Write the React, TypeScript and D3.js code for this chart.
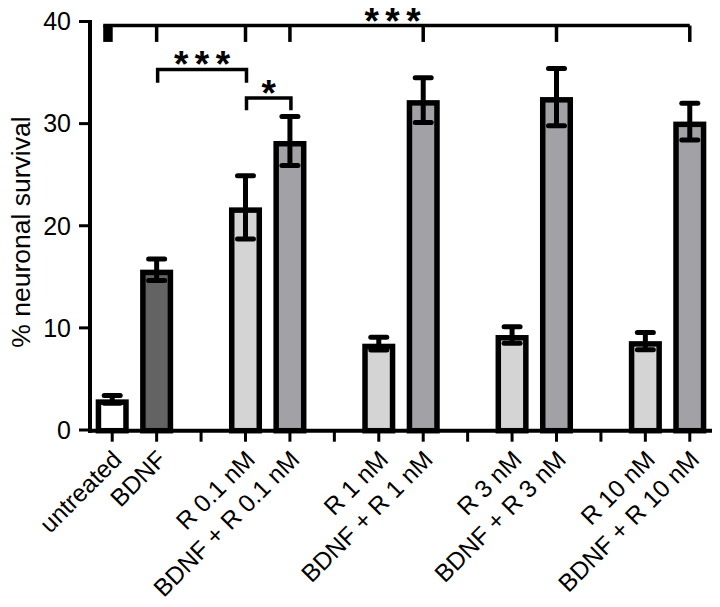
import React from "react";
import * as d3 from "d3";

const categories = ["untreated", "BDNF", "", "R 0.1 nM", "BDNF + R 0.1 nM", "", "R 1 nM", "BDNF + R 1 nM", "", "R 3 nM", "BDNF + R 3 nM", "", "R 10 nM", "BDNF + R 10 nM"];
const means: (number | null)[] = [3.0, 15.7, null, 21.8, 28.3, null, 8.45, 32.3, null, 9.3, 32.6, null, 8.7, 30.2];
const errors: (number | null)[] = [0.38, 1.05, null, 3.1, 2.4, null, 0.62, 2.2, null, 0.8, 2.8, null, 0.85, 1.8];
const treatments = ["none", "BDNF", "", "R", "BDNF+R", "", "R", "BDNF+R", "", "R", "BDNF+R", "", "R", "BDNF+R"];
const yTicks = [0, 10, 20, 30, 40];
const yLabel = "% neuronal survival";

// significance comparisons
const sigTop = { from: 0, to: [1, 3, 4, 7, 10, 13], level: 39.6, bottom: 38.0, label: "***" };
const sigPairs = [
  { from: 1, to: 3, level: 35.3, bottom: 34.0, label: "***" },
  { from: 3, to: 4, level: 32.5, bottom: 31.3, label: "*" },
];

const fillFor: Record<string, string> = {
  none: "#ffffff",
  BDNF: "#636363",
  R: "#d4d4d4",
  "BDNF+R": "#a2a1a6",
};

export default function App() {
  const W = 720, H = 607;
  const x = d3.scaleBand<string>()
    .domain(categories.map((_, i) => String(i)))
    .range([90, 712])
    .paddingInner(0.38)
    .paddingOuter(0.19);
  const y = d3.scaleLinear().domain([0, 40]).range([430, 21.5]);
  const bw = x.bandwidth();
  const sw = 5.5;
  const cx = (i: number) => (x(String(i)) as number) + bw / 2;
  const font = "'Liberation Sans', Arial, Helvetica, sans-serif";
  const axisY = y(0) + 0.7;
  const starSize = 37;
  const starDy = 8;
  const ls = 6.5;

  return (
    <svg width={W} height={H} style={{ position: "absolute", left: 0, top: 0, background: "#fff" }} fontFamily={font}>
      {/* bars */}
      {categories.map((c, i) => {
        const m = means[i];
        if (m == null) return null;
        const top = y(m) + sw / 2;
        return (
          <rect key={"b" + i} x={cx(i) - bw / 2} y={top} width={bw} height={axisY - top}
            fill={fillFor[treatments[i]]} stroke="#000" strokeWidth={sw} />
        );
      })}
      {/* error bars */}
      {categories.map((c, i) => {
        const m = means[i];
        const e = errors[i];
        if (m == null || e == null) return null;
        const xc = cx(i);
        return (
          <g key={"e" + i} stroke="#000" strokeWidth={5} strokeLinecap="round">
            <line x1={xc} x2={xc} y1={y(m + e)} y2={y(m - e)} strokeLinecap="butt" />
            <line x1={xc - 8} x2={xc + 8} y1={y(m + e)} y2={y(m + e)} />
            <line x1={xc - 8} x2={xc + 8} y1={y(m - e)} y2={y(m - e)} />
          </g>
        );
      })}
      {/* y axis */}
      <line x1={90} x2={90} y1={y(40) - 1.5} y2={axisY + 2} stroke="#000" strokeWidth={4} />
      {yTicks.map((t) => (
        <g key={"yt" + t}>
          <line x1={79} x2={90} y1={y(t)} y2={y(t)} stroke="#000" strokeWidth={3} />
          <text x={71} y={y(t)} dy="0.35em" textAnchor="end" fontSize={25}>{t}</text>
        </g>
      ))}
      <text transform={`translate(30, 232) rotate(-90)`} textAnchor="middle" fontSize={26.5}>{yLabel}</text>
      {/* x axis */}
      <line x1={88} x2={712} y1={axisY} y2={axisY} stroke="#000" strokeWidth={4} />
      {categories.map((c, i) => (
        <g key={"xt" + i}>
          <line x1={cx(i)} x2={cx(i)} y1={axisY} y2={axisY + 11} stroke="#000" strokeWidth={3} />
          {c && (
            <text transform={`translate(${cx(i) + 11}, 461) rotate(-45)`} textAnchor="end" fontSize={24.5}>{c}</text>
          )}
        </g>
      ))}
      {/* top significance bracket */}
      <g stroke="#000" strokeWidth={3.5}>
        <line x1={cx(sigTop.from) - 9} x2={cx(sigTop.to[sigTop.to.length - 1])} y1={y(sigTop.level)} y2={y(sigTop.level)} />
        {sigTop.to.map((j) => (
          <line key={"st" + j} x1={cx(j)} x2={cx(j)} y1={y(sigTop.level)} y2={y(sigTop.bottom)} />
        ))}
      </g>
      <rect x={cx(sigTop.from) - 9} y={y(sigTop.level)} width={9.5} height={y(sigTop.bottom) - y(sigTop.level)} fill="#000" />
      <text x={(cx(sigTop.from) - 9 + cx(sigTop.to[sigTop.to.length - 1])) / 2 - 4 + ls / 2} y={y(sigTop.level) + starDy}
        textAnchor="middle" fontSize={starSize} fontWeight="bold" letterSpacing={ls}>{sigTop.label}</text>
      {sigPairs.map((p, k) => {
        const x1 = cx(p.from) + 1, x2 = cx(p.to) + 1;
        const l = p.label.length > 1 ? ls : 0;
        return (
          <g key={"sp" + k}>
            <path d={`M${x1},${y(p.bottom)}V${y(p.level)}H${x2}V${y(p.bottom)}`} fill="none" stroke="#000" strokeWidth={3.5} />
            <text x={(x1 + x2) / 2 + l / 2} y={y(p.level) + starDy} textAnchor="middle" fontSize={starSize} fontWeight="bold" letterSpacing={l}>{p.label}</text>
          </g>
        );
      })}
    </svg>
  );
}
